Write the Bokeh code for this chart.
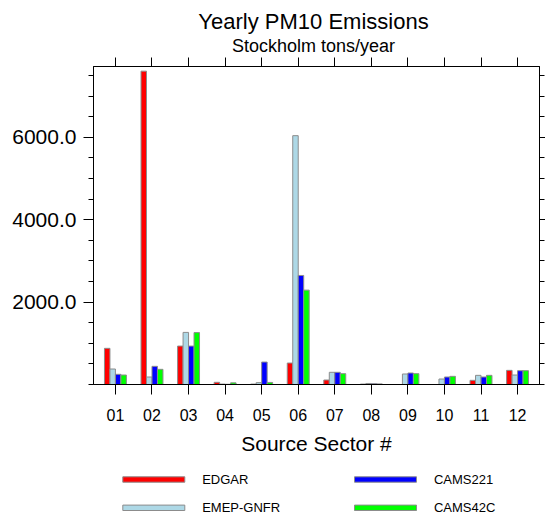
from bokeh.plotting import figure
from bokeh.models import FixedTicker, LinearAxis, Range1d, NumeralTickFormatter, ColumnDataSource
from bokeh.layouts import column
from bokeh.transform import dodge
from bokeh.embed import file_html
from bokeh.resources import INLINE
from bokeh.core.properties import value

# ---------------- data ----------------
sectors = ["01", "02", "03", "04", "05", "06", "07", "08", "09", "10", "11", "12"]
edgar = [878, 7607, 933, 53, 10, 521, 109, 10, 0, 0, 101, 343]
emep_gnfr = [376, 182, 1265, 10, 45, 6041, 296, 25, 255, 133, 222, 230]
cams221 = [247, 441, 933, 5, 545, 2647, 296, 20, 279, 182, 182, 335]
cams42c = [230, 368, 1260, 40, 50, 2291, 263, 15, 263, 198, 222, 335]

series_names = ["EDGAR", "EMEP-GNFR", "CAMS221", "CAMS42C"]
series_colors = ["#ff0000", "#add8e6", "#0000ff", "#00ff00"]
title_text = "Yearly PM10 Emissions"
subtitle_text = "Stockholm tons/year"
x_title = "Source Sector #"
y_major = [2000, 4000, 6000]
y_minor = list(range(0, 8000, 500))

FONT = "Liberation Sans"
OUTLINE = "#8c8c8c"

# frames of all figures in the column are aligned to x = 93..539 (canvas px)
FX0, FX1 = 93, 539

# ---------------- header ----------------
h = figure(width=545, height=56, x_range=Range1d(FX0, FX1), y_range=Range1d(0, 56),
           output_backend="svg", toolbar_location=None, min_border=0,
           x_axis_location=None, y_axis_location=None)
h.outline_line_color = None
h.grid.visible = False
h.text(x=[313], y=[34.9], text=[title_text], text_font=value(FONT), text_font_size="22px",
       text_align="center", text_baseline="middle", text_color="black")
h.text(x=[313], y=[10.9], text=[subtitle_text], text_font=value(FONT), text_font_size="18px",
       text_align="center", text_baseline="middle", text_color="black")

# ---------------- main plot ----------------
xpos = list(range(1, len(sectors) + 1))
src = ColumnDataSource(dict(x=xpos, edgar=edgar, emep=emep_gnfr, c221=cams221, c42=cams42c))

p = figure(width=545, height=406, x_range=Range1d(0.4, 12.6), y_range=Range1d(0, 7720),
           output_backend="svg", toolbar_location=None,
           x_axis_location=None, y_axis_location=None,
           min_border_left=93, min_border_right=6, min_border_top=10, min_border_bottom=78)
p.grid.visible = False
p.outline_line_color = "black"
p.outline_line_width = 1

fields = ["edgar", "emep", "c221", "c42"]
offsets = [-0.225, -0.075, 0.075, 0.225]
for f, off, col in zip(fields, offsets, series_colors):
    p.vbar(x=dodge("x", off, range=p.x_range), top=f, width=0.15, bottom=0, source=src,
           fill_color=col, line_color=OUTLINE, line_width=1)

yt = FixedTicker(ticks=y_major, minor_ticks=y_minor)
xt = FixedTicker(ticks=xpos, minor_ticks=[])

left = LinearAxis(ticker=yt, formatter=NumeralTickFormatter(format="0.0"),
                  major_tick_in=0, major_tick_out=10, minor_tick_in=0, minor_tick_out=5,
                  major_label_standoff=7, major_label_text_font=FONT,
                  major_label_text_font_size="21px", major_label_text_color="black",
                  axis_line_color="black", major_tick_line_color="black",
                  minor_tick_line_color="black")
p.add_layout(left, "left")

right = LinearAxis(ticker=yt, major_tick_in=0, major_tick_out=6, minor_tick_in=0, minor_tick_out=5,
                   major_label_standoff=0, major_label_overrides={t: "" for t in y_major},
                   axis_line_color="black", major_tick_line_color="black",
                   minor_tick_line_color="black")
p.add_layout(right, "right")

bottom = LinearAxis(ticker=xt, major_tick_in=0, major_tick_out=10,
                    major_label_overrides={i + 1: s for i, s in enumerate(sectors)},
                    major_label_standoff=14, major_label_text_font=FONT,
                    major_label_text_font_size="16px", major_label_text_color="black",
                    axis_label=x_title, axis_label_text_font=FONT,
                    axis_label_text_font_size="21px", axis_label_text_font_style="normal",
                    axis_label_text_color="black", axis_label_standoff=8,
                    axis_line_color="black", major_tick_line_color="black")
p.add_layout(bottom, "below")

top = LinearAxis(ticker=xt, major_tick_in=0, major_tick_out=9,
                 major_label_standoff=0, major_label_overrides={t: "" for t in xpos},
                 axis_line_color="black", major_tick_line_color="black")
p.add_layout(top, "above")

# ---------------- legend ----------------
lg = figure(width=545, height=57, x_range=Range1d(FX0, FX1), y_range=Range1d(0, 57),
            output_backend="svg", toolbar_location=None, min_border=0,
            x_axis_location=None, y_axis_location=None)
lg.outline_line_color = None
lg.grid.visible = False
col_x = [122.3, 354.0]
row_y = [40.0, 11.7]
lefts, ys, tx = [], [], []
for i in range(len(series_names)):
    c, r = i // 2, i % 2
    lefts.append(col_x[c])
    ys.append(row_y[r])
    tx.append(col_x[c] + 79.4)
lsrc = ColumnDataSource(dict(left=lefts, right=[v + 62 for v in lefts],
                             bottom=[v - 2.7 for v in ys], top=[v + 2.7 for v in ys],
                             y=ys, tx=tx, name=series_names, color=series_colors))
lg.quad(left="left", right="right", bottom="bottom", top="top", source=lsrc,
        fill_color="color", line_color=OUTLINE, line_width=1)
lg.text(x="tx", y="y", text="name", source=lsrc, text_font=value(FONT), text_font_size="13px",
        text_baseline="middle", text_align="left", text_color="black")

layout = column(h, p, lg, spacing=0)
open("out.html", "w").write(file_html(layout, INLINE))
